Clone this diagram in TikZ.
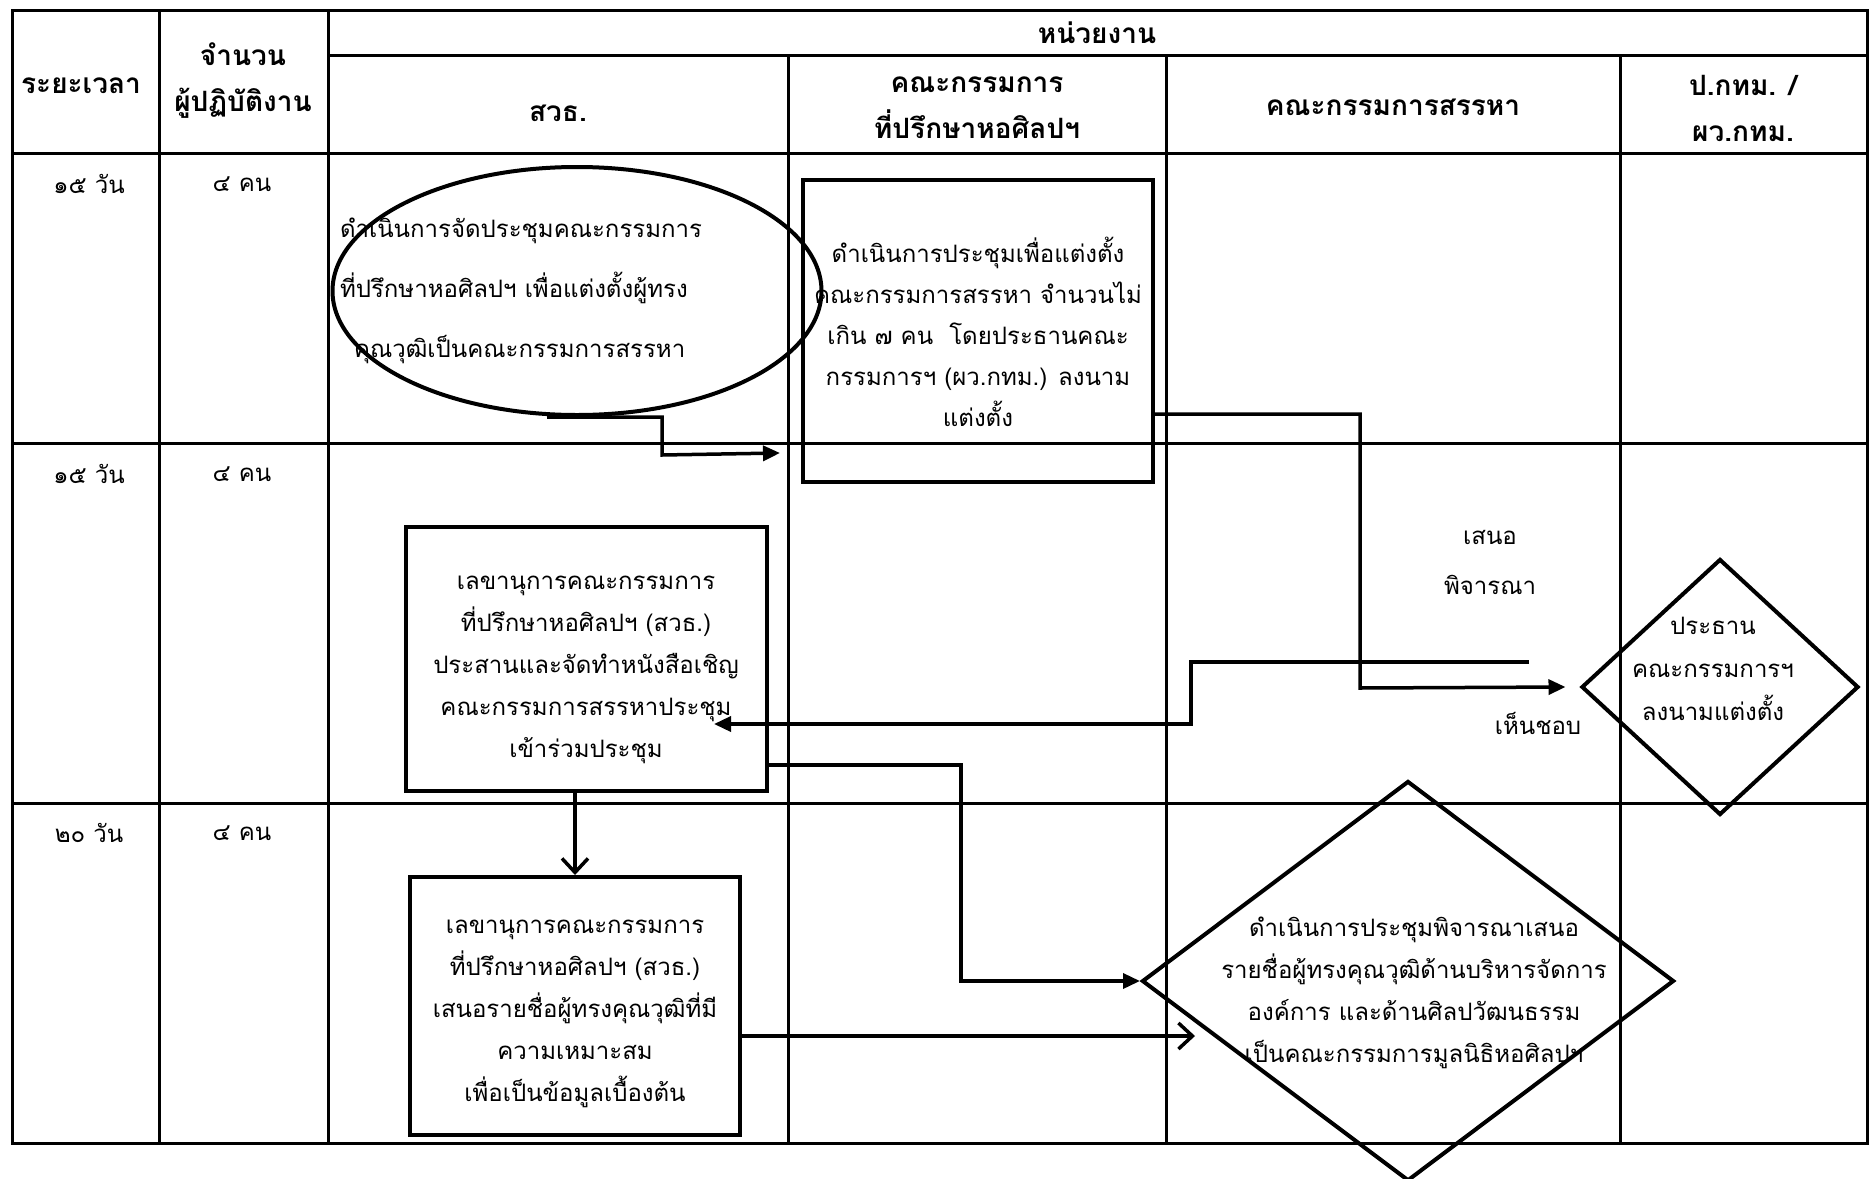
\documentclass[tikz,border=0pt]{standalone}
\usepackage{fontspec}
\newfontfamily\thaifont[Script=Thai]{Loma}
\usetikzlibrary{shapes.geometric,arrows.meta}

\begin{document}
\begin{tikzpicture}[x=1pt,y=-1pt,
  grid/.style={line width=3pt},
  box/.style={draw,rectangle,line width=4pt,inner sep=0pt},
  body/.style={inner sep=0pt,align=center,font=\thaifont\fontsize{24}{41}\selectfont},
  wide/.style={font=\thaifont\fontsize{24}{42}\selectfont},
  head/.style={inner sep=0pt,align=center,font=\thaifont\bfseries\fontsize{28}{46}\selectfont},
  dia/.style={draw,diamond,line width=4pt,inner sep=0pt},
  flow/.style={line width=3.5pt,-{Triangle[length=17pt,width=15pt]}},
  barb/.style={line width=3.5pt,-{Straight Barb[length=14pt,width=26pt]}},
  ]
\useasboundingbox (0,0) rectangle (1871,1178);

% table grid
\draw[grid] (12,10) rectangle (1867,1143);
\draw[grid] (328,55) -- (1867,55);
\draw[grid] (12,153) -- (1867,153);
\draw[grid] (12,443) -- (1867,443);
\draw[grid] (12,803) -- (1867,803);
\draw[grid] (159,10) -- (159,1143);
\draw[grid] (328,10) -- (328,1143);
\foreach \x in {788,1166,1620} \draw[grid] (\x,55) -- (\x,1143);

% header
\node[head] (hTime) at (81,86) {ระยะเวลา};
\node[head] (hStaff) at (243,81) {จำนวน\\ผู้ปฏิบัติงาน};
\node[head] (hUnit) at (1097,33) {หน่วยงาน};
\node[head] (hOcac) at (558,113) {สวธ.};
\node[head] (hAdv) at (977,108) {คณะกรรมการ\\ที่ปรึกษาหอศิลปฯ};
\node[head] (hSel) at (1393,107) {คณะกรรมการสรรหา};
\node[head] (hBma) at (1743,108) {ป.กทม. /\\ผว.กทม.};

% time and staff per row
\node[body] (t1) at (89,184) {๑๕ วัน};
\node[body] (s1) at (242,184) {๔ คน};
\node[body] (t2) at (89,474) {๑๕ วัน};
\node[body] (s2) at (242,474) {๔ คน};
\node[body] (t3) at (89,833) {๒๐ วัน};
\node[body] (s3) at (242,833) {๔ คน};

% step 1: meeting of the advisory committee
\node[draw,ellipse,line width=4pt,minimum width=489pt,minimum height=248pt,inner sep=0pt] (ell) at (577,291) {};
\node[inner sep=0pt,align=left,font=\thaifont\fontsize{24}{60}\selectfont] (elltxt) at (521,291)
  {ดำเนินการจัดประชุมคณะกรรมการ\\ที่ปรึกษาหอศิลปฯ เพื่อแต่งตั้งผู้ทรง\\\hspace*{14pt}คุณวุฒิเป็นคณะกรรมการสรรหา};

% step 2: appointing the selection committee
\node[box,minimum width=350pt,minimum height=302pt] (b2) at (978,331) {};
\node[body] (b2t) at (978,332)
  {ดำเนินการประชุมเพื่อแต่งตั้ง\\คณะกรรมการสรรหา จำนวนไม่\\เกิน ๗ คน\ \ โดยประธานคณะ\\กรรมการฯ (ผว.กทม.) ลงนาม\\แต่งตั้ง};

% step 3: inviting the selection committee
\node[box,minimum width=361pt,minimum height=264pt] (b3) at (586.5,659) {};
\node[body,wide] (b3t) at (586,670)
  {เลขานุการคณะกรรมการ\\ที่ปรึกษาหอศิลปฯ (สวธ.)\\ประสานและจัดทำหนังสือเชิญ\\คณะกรรมการสรรหาประชุม\\เข้าร่วมประชุม};

% step 4: proposing qualified persons
\node[box,minimum width=330pt,minimum height=258pt] (b4) at (575,1006) {};
\node[body,wide] (b4t) at (575,1014)
  {เลขานุการคณะกรรมการ\\ที่ปรึกษาหอศิลปฯ (สวธ.)\\เสนอรายชื่อผู้ทรงคุณวุฒิที่มี\\ความเหมาะสม\\เพื่อเป็นข้อมูลเบื้องต้น};

% approval by the chair
\node[dia,minimum width=277pt,minimum height=256pt] (d2) at (1720,687) {};
\node[body,font=\thaifont\fontsize{24}{43}\selectfont] (d2t) at (1713,669) {ประธาน\\คณะกรรมการฯ\\ลงนามแต่งตั้ง};

% selection meeting
\node[dia,minimum width=532pt,minimum height=400pt] (d1) at (1408,981) {};
\node[body,wide] (d1t) at (1414,993)
  {ดำเนินการประชุมพิจารณาเสนอ\\รายชื่อผู้ทรงคุณวุฒิด้านบริหารจัดการ\\องค์การ และด้านศิลปวัฒนธรรม\\เป็นคณะกรรมการมูลนิธิหอศิลปฯ};

% connector labels
\node[body] (lPropose) at (1490,537) {เสนอ};
\node[body] (lConsider) at (1490,585) {พิจารณา};
\node[body] (lApprove) at (1538,723) {เห็นชอบ};

% free ends
\coordinate (e1) at (780,453);
\coordinate (ret) at (1529,662);
\coordinate (d1near) at (1195,1036);

% connectors
\draw[flow] ([xshift=-30pt]ell.south) -- ++(115,0) -- ++(0,38) -- (e1);
\draw[flow] ([yshift=-83pt]b2.east) -| (1360,688) -- ([xshift=-14pt]d2.west);
\draw[flow] (ret) -| (1191,724) -- ([xshift=-55pt,yshift=-65pt]b3.east);
\draw[flow] ([yshift=-106pt]b3.east) -| (961,981) -- (d1.west);
\draw[barb] (b4.north |- b3.south) -- (b4.north);
\draw[barb] ([yshift=-30pt]b4.east) -- (d1near);
\end{tikzpicture}
\end{document}
